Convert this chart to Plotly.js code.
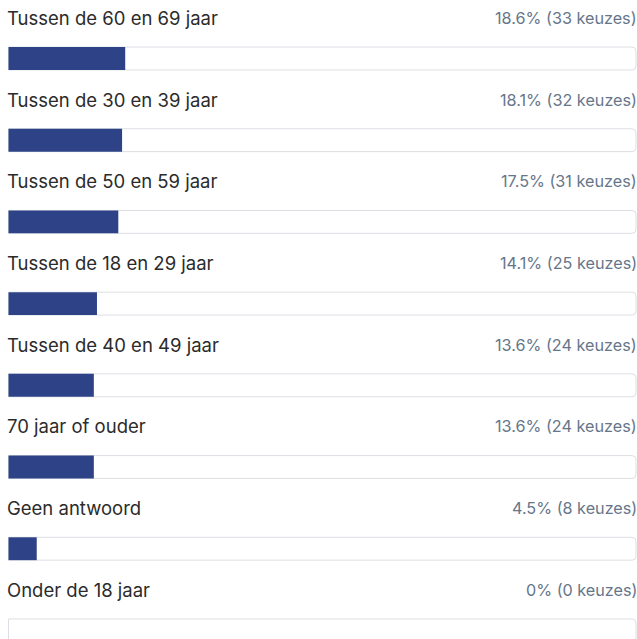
<!DOCTYPE html>
<html>
<head>
<meta charset="utf-8">
<script src="https://cdn.plot.ly/plotly-3.0.1.min.js"></script>
<style>
html,body{margin:0;padding:0;background:#fff;}
#chart{width:637px;height:639px;}
</style>
</head>
<body>
<div id="chart"></div>
<script>
var categories = [
  "Tussen de 60 en 69 jaar",
  "Tussen de 30 en 39 jaar",
  "Tussen de 50 en 59 jaar",
  "Tussen de 18 en 29 jaar",
  "Tussen de 40 en 49 jaar",
  "70 jaar of ouder",
  "Geen antwoord",
  "Onder de 18 jaar"
];
var percentages = [18.6, 18.1, 17.5, 14.1, 13.6, 13.6, 4.5, 0];
var counts = [33, 32, 31, 25, 24, 24, 8, 0];

var idx = categories.map(function(_, i){ return i; });
var full = categories.map(function(){ return 100; });

var track = {
  type: 'bar', orientation: 'h',
  x: full, y: idx, width: 0.28,
  marker: {color: '#ffffff', line: {color: '#dcdfe3', width: 1}, cornerradius: 4},
  hoverinfo: 'skip', showlegend: false
};
var fill = {
  type: 'bar', orientation: 'h',
  x: percentages, y: idx, width: 0.28,
  marker: {color: '#2e4387', line: {width: 0}},
  hoverinfo: 'skip', showlegend: false
};

var annotations = [];
categories.forEach(function(c, i){
  annotations.push({
    xref: 'paper', yref: 'y', x: 0.008, y: i - 0.496,
    xanchor: 'left', yanchor: 'middle', showarrow: false,
    text: c, font: {family: 'Inter, sans-serif', size: 18.5, color: '#2b2b2b'}
  });
  annotations.push({
    xref: 'paper', yref: 'y', x: 1, xshift: 2, y: i - 0.496,
    xanchor: 'right', yanchor: 'middle', showarrow: false,
    text: percentages[i] + '% (' + counts[i] + ' keuzes)',
    font: {family: 'Inter, sans-serif', size: 16.2, color: '#66768a'}
  });
});

var layout = {
  width: 637, height: 639,
  margin: {l: 0, r: 0, t: 0, b: 0},
  paper_bgcolor: '#ffffff', plot_bgcolor: '#ffffff',
  barmode: 'overlay',
  xaxis: {range: [-1.355, 100.16], visible: false, fixedrange: true},
  yaxis: {range: [7.105, -0.716], visible: false, fixedrange: true},
  annotations: annotations
};

Plotly.newPlot('chart', [track, fill], layout, {displayModeBar: false, staticPlot: true});
</script>
</body>
</html>
